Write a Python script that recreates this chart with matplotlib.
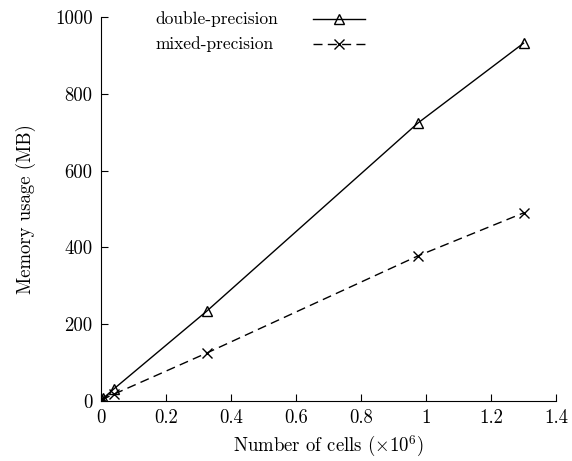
import matplotlib
matplotlib.use("Agg")
import matplotlib.pyplot as plt
from matplotlib.ticker import FuncFormatter

plt.rcParams["font.family"] = "serif"
plt.rcParams["font.serif"] = ["cmr10", "DejaVu Serif"]
plt.rcParams["mathtext.fontset"] = "cm"
plt.rcParams["axes.formatter.use_mathtext"] = True

# Number of cells (millions) and memory usage (MB)
cells = [0.0016, 0.0064, 0.04, 0.325, 0.975, 1.3]
mem_double = [3, 7, 32, 234, 724, 932]
mem_mixed = [2, 5, 18, 125, 378, 490]
labels = ["double-precision", "mixed-precision"]

fig = plt.figure(figsize=(5.72, 4.61), dpi=100)
ax = fig.add_axes([0.1766, 0.130, 0.7955, 0.833])

styles = [
    dict(ls="-", marker="^", markersize=7, markerfacecolor="none"),
    dict(ls=(0, (6.5, 3.8)), marker="x", markersize=7.5),
]

for mem, st in zip([mem_double, mem_mixed], styles):
    ax.plot(cells, mem, color="black", lw=1.0, markeredgewidth=1.0, **st)

# gnuplot-style key: label on the left, sample on the right
for i, (lab, st) in enumerate(zip(labels, styles)):
    yk = 0.995 - 0.065 * i
    ax.text(0.119, yk, lab, transform=ax.transAxes, ha="left", va="center",
            fontsize=12.5)
    ax.plot([0.466, 0.580], [yk, yk], transform=ax.transAxes, color="black",
            lw=1.0, clip_on=False, ls=st["ls"])
    ax.plot([0.523], [yk], transform=ax.transAxes, color="black",
            clip_on=False, markeredgewidth=1.0, ls="none",
            **{k: v for k, v in st.items() if k != "ls"})

ax.set_xlim(0, 1.4)
ax.set_ylim(0, 1000)
ax.set_xticks([0, 0.2, 0.4, 0.6, 0.8, 1.0, 1.2, 1.4])
ax.set_yticks([0, 200, 400, 600, 800, 1000])
ax.xaxis.set_major_formatter(FuncFormatter(lambda v, p: "%g" % v))
ax.yaxis.set_major_formatter(FuncFormatter(lambda v, p: "%g" % v))

for side in ("top", "right"):
    ax.spines[side].set_visible(False)
ax.tick_params(direction="in", length=5, width=0.8, labelsize=13.5, pad=6)

ax.set_xlabel(r"Number of cells ($\times 10^6$)", fontsize=13.5, labelpad=5)
ax.set_ylabel("Memory usage (MB)", fontsize=13.5, labelpad=14)

fig.savefig("out.png", dpi=100)
